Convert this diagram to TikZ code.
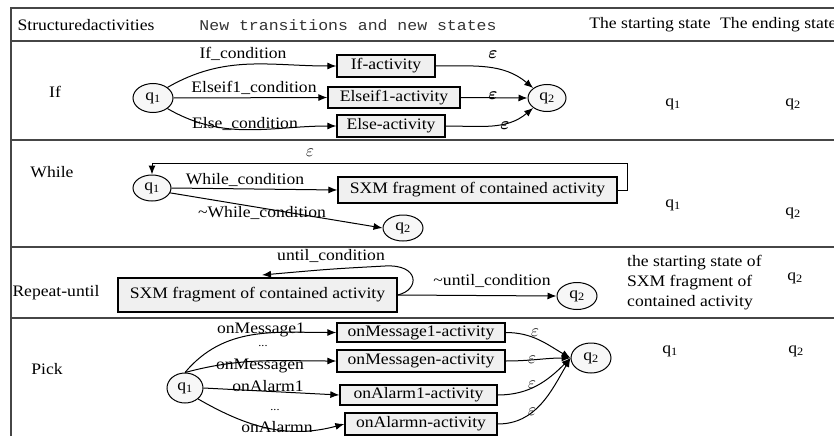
\documentclass[tikz,border=0pt]{standalone}
\usepackage{amsmath}
\usepackage{fontspec}
\setmainfont{Liberation Serif}[FakeStretch=1.1]
\newfontfamily\monofam{Liberation Mono}[FakeStretch=1.1]
\usetikzlibrary{arrows.meta,shapes.geometric}

\tikzset{
  txt/.style={inner sep=0pt, font=\fontsize{16}{20}\selectfont},
  dots/.style={inner sep=0pt, font=\fontsize{11}{12}\selectfont},
  state/.style={ellipse, draw, line width=1pt, fill=gray!6, inner sep=0pt,
    minimum width=38pt, minimum height=27pt, font=\fontsize{16}{20}\selectfont},
  act/.style={draw, line width=1.3pt, fill=gray!12, inner sep=0pt,
    font=\fontsize{16}{20}\selectfont},
  arr/.style={line width=1pt, -{Latex[length=9pt,width=7pt]}},
  rule/.style={line width=2pt, draw=gray!55!black},
}

\begin{document}
\begin{tikzpicture}[x=1pt,y=-1pt]
\useasboundingbox (0,0) rectangle (834,436);

% table rules
\draw[rule] (11,436) -- (11,8) -- (834,8);
\draw[rule] (11,41.5) -- (834,41.5);
\draw[rule] (11,140) -- (834,140);
\draw[rule] (11,247) -- (834,247);
\draw[rule] (11,318) -- (834,318);

% header
\node[txt] (h1) at (86,25) {Structuredactivities};
\node[txt, font=\fontsize{15}{18}\monofam, text=black!80] (h2) at (348,25) {New transitions and new states};
\node[txt] (h3) at (650,25) {The starting state};
\node[txt, anchor=west] (h4) at (720,25) {The ending state};

% ---------- If ----------
\node[txt] (rif) at (55,92) {If};
\node[state, minimum width=40pt, minimum height=29pt] (q1i) at (153,98) {q\textsubscript{1}};
\node[state] (q2i) at (547,98) {q\textsubscript{2}};
\node[act, minimum width=98pt, minimum height=22pt] (ifact) at (386,66) {If-activity};
\node[act, minimum width=132pt, minimum height=21pt] (eifact) at (394,97.5) {Elseif1-activity};
\node[act, minimum width=108pt, minimum height=22pt] (elact) at (391,126) {Else-activity};
\draw[arr] (q1i.north east) to[out=30,in=180] (ifact.west);
\draw[arr] (q1i.east) -- (eifact.west);
\draw[arr] (q1i.south east) to[out=-30,in=180] (elact.west);
\draw[arr] (ifact.east) to[out=0,in=140] (q2i.north west);
\draw[arr] (eifact.east) -- (q2i.west);
\draw[arr] (elact.east) to[out=0,in=-140] (q2i.south west);
\node[txt] (lif) at (243,54) {If\_condition};
\node[txt] (leif) at (254,88) {Elseif1\_condition};
\node[txt] (lel) at (245,124) {Else\_condition};
\node[txt] (eif1) at (493,55) {$\boldsymbol{\varepsilon}$};
\node[txt] (eif2) at (493,96) {$\boldsymbol{\varepsilon}$};
\node[txt] (eif3) at (505,126) {$\boldsymbol{\varepsilon}$};
\node[txt] (sif) at (673,104) {q\textsubscript{1}};
\node[txt] (fif) at (793,104) {q\textsubscript{2}};

% ---------- While ----------
\node[txt] (rwh) at (52,172) {While};
\node[state, minimum height=26pt] (q1w) at (152,188) {q\textsubscript{1}};
\node[state, minimum width=40pt, minimum height=26pt] (q2w) at (403,228) {q\textsubscript{2}};
\node[act, minimum width=279pt, minimum height=26pt] (sxmw) at (477.5,190) {SXM fragment of contained activity};
\coordinate (wtop) at (627,163);
\draw[arr] (sxmw.east) -| (wtop) -| (q1w.north);
\draw[arr] (q1w.east) -- (sxmw.west);
\draw[arr] (q1w.-15) -- (q2w.west);
\node[txt] (ewh) at (310,153) {$\varepsilon$};
\node[txt] (lwh) at (245,180) {While\_condition};
\node[txt] (lnwh) at (262,213) {\textasciitilde While\_condition};
\node[txt] (swh) at (673,205) {q\textsubscript{1}};
\node[txt] (fwh) at (793,213) {q\textsubscript{2}};

% ---------- Repeat-until ----------
\node[txt] (rru) at (56,293) {Repeat-until};
\node[act, minimum width=279pt, minimum height=34pt] (sxmr) at (257.5,295) {SXM fragment of contained activity};
\node[state, minimum width=40pt] (q2r) at (577,296) {q\textsubscript{2}};
\coordinate (uend) at (262,275);
\draw[arr] (sxmr.east) .. controls (420,290) and (420,264) .. (385,266) .. controls (330,269) .. (uend);
\draw[arr] (sxmr.east) -- (q2r.west);
\node[txt] (lun) at (331,256) {until\_condition};
\node[txt] (lnun) at (492,281) {\textasciitilde until\_condition};
\node[txt, anchor=west, align=left] (sru) at (627,283) {the starting state of\\SXM fragment of\\contained activity};
\node[txt] (fru) at (795,278) {q\textsubscript{2}};

% ---------- Pick ----------
\node[txt] (rpk) at (47,369) {Pick};
\node[state, minimum width=36pt, minimum height=30pt] (q1p) at (185,388) {q\textsubscript{1}};
\node[state, minimum width=40pt, minimum height=30pt] (q2p) at (591,358) {q\textsubscript{2}};
\node[act, minimum width=168pt, minimum height=19pt] (pb1) at (421,332.5) {onMessage1-activity};
\node[act, minimum width=168pt, minimum height=22pt] (pb2) at (421,361) {onMessagen-activity};
\node[act, minimum width=157pt, minimum height=20pt] (pb3) at (418.5,395) {onAlarm1-activity};
\node[act, minimum width=152pt, minimum height=22pt] (pb4) at (421,424) {onAlarmn-activity};
\draw[arr] (q1p.north) to[out=50,in=180] (pb1.west);
\draw[arr] (q1p.north) to[out=15,in=180] (pb2.west);
\draw[arr] (q1p.east) -- (pb3.west);
\draw[arr] (q1p.south east) to[out=-30,in=195] (pb4.west);
\draw[arr] (pb1.east) to[out=0,in=150] (q2p.west);
\draw[arr] (pb2.east) to[out=0,in=180] (q2p.west);
\draw[arr] (pb3.east) to[out=0,in=225] (q2p.west);
\draw[arr] (pb4.east) to[out=0,in=240] (q2p.west);
\node[txt] (lp1) at (261,330) {onMessage1};
\node[dots] (dp1) at (263,346) {...};
\node[txt] (lp2) at (260,366) {onMessagen};
\node[txt] (lp3) at (268,386) {onAlarm1};
\node[dots] (dp2) at (275,410) {...};
\node[txt] (lp4) at (277,427) {onAlarmn};
\node[txt] (ep1) at (535,333) {$\varepsilon$};
\node[txt] (ep2) at (532,360) {$\varepsilon$};
\node[txt] (ep3) at (532,385) {$\varepsilon$};
\node[txt] (ep4) at (532,412) {$\varepsilon$};
\node[txt] (spk) at (670,351) {q\textsubscript{1}};
\node[txt] (fpk) at (796,351) {q\textsubscript{2}};
\end{tikzpicture}
\end{document}
